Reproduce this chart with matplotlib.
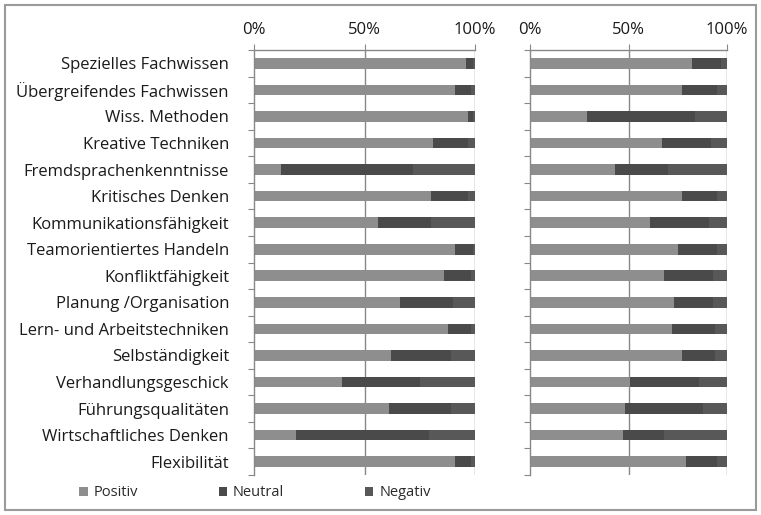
import numpy as np
import matplotlib.pyplot as plt
from matplotlib.patches import Rectangle

plt.rcParams['font.family'] = ['Open Sans', 'DejaVu Sans']

categories = [
    "Spezielles Fachwissen", "Übergreifendes Fachwissen", "Wiss. Methoden",
    "Kreative Techniken", "Fremdsprachenkenntnisse", "Kritisches Denken",
    "Kommunikationsfähigkeit", "Teamorientiertes Handeln", "Konfliktfähigkeit",
    "Planung /Organisation", "Lern- und Arbeitstechniken", "Selbständigkeit",
    "Verhandlungsgeschick", "Führungsqualitäten", "Wirtschaftliches Denken",
    "Flexibilität",
]

# left block (percent)
left_pos = [96, 91, 97, 81, 12, 80, 56, 91, 86, 66, 88, 62, 40, 61, 19, 91]
left_neu = [3, 7, 2, 16, 60, 17, 24, 8, 12, 24, 10, 27, 35, 28, 60, 7]
left_neg = [1, 2, 1, 3, 28, 3, 20, 1, 2, 10, 2, 11, 25, 11, 21, 2]

# right block (percent)
right_pos = [82, 77, 29, 67, 43, 77, 61, 75, 68, 73, 72, 77, 51, 48, 47, 79]
right_neu = [15, 18, 55, 25, 27, 18, 30, 20, 25, 20, 22, 17, 35, 40, 21, 16]
right_neg = [3, 5, 16, 8, 30, 5, 9, 5, 7, 7, 6, 6, 14, 12, 32, 5]

series_names = ["Positiv", "Neutral", "Negativ"]
colors = ["#8e8e8e", "#4a4a4a", "#585858"]
edge = "#888888"
text_c = "#1a1a1a"

W, H = 761, 515
fig = plt.figure(figsize=(W / 100, H / 100), dpi=100)

# outer frame
fig.patches.append(Rectangle((5 / W, 5 / H), 1 - 10 / W, 1 - 10 / H,
                             transform=fig.transFigure, fill=False,
                             edgecolor="#9a9a9a", linewidth=1.5))

y_top, y_bot = 50, 475
ax_l = fig.add_axes([254 / W, 1 - y_bot / H, 221 / W, (y_bot - y_top) / H])
ax_r = fig.add_axes([530 / W, 1 - y_bot / H, 197 / W, (y_bot - y_top) / H])

y = np.arange(len(categories))


def draw(ax, pos, neu, neg, labels):
    pos, neu, neg = map(np.array, (pos, neu, neg))
    ax.barh(y, pos, height=0.4, color=colors[0], label=series_names[0])
    ax.barh(y, neu, left=pos, height=0.4, color=colors[1], label=series_names[1])
    ax.barh(y, neg, left=pos + neu, height=0.4, color=colors[2], label=series_names[2])
    ax.set_xlim(0, 100)
    ax.set_ylim(len(categories) - 0.5, -0.5)
    ax.xaxis.tick_top()
    ax.set_xticks([0, 50, 100])
    ax.set_xticklabels(["0%", "50%", "100%"], fontsize=12, color=text_c)
    ax.tick_params(axis="x", length=4, color=edge, pad=5)
    ax.set_yticks(np.arange(-0.5, len(categories), 1))
    ax.set_yticklabels([])
    ax.tick_params(axis="y", length=4, color=edge, direction="out")
    if labels:
        ax.set_yticks(y, minor=True)
        ax.set_yticklabels(categories, minor=True, fontsize=12, color=text_c)
        ax.tick_params(axis="y", which="minor", length=0, pad=18)
    for x in (50, 100):
        ax.axvline(x, color=edge, linewidth=1, zorder=0)
    for s in ("right", "bottom"):
        ax.spines[s].set_visible(False)
    for s in ("left", "top"):
        ax.spines[s].set_color(edge)
        ax.spines[s].set_linewidth(1)
    ax.set_axisbelow(True)


draw(ax_l, left_pos, left_neu, left_neg, True)
draw(ax_r, right_pos, right_neu, right_neg, False)

handles, lbls = ax_l.get_legend_handles_labels()
fig.legend(handles, lbls, loc="center", bbox_to_anchor=(0.335, 1 - 493 / H),
           ncol=3, frameon=False, fontsize=10.5, handlelength=0.6, handleheight=0.6,
           columnspacing=5.5, handletextpad=0.4, labelcolor="#2a2a2a")

fig.savefig("out.png", dpi=100)
